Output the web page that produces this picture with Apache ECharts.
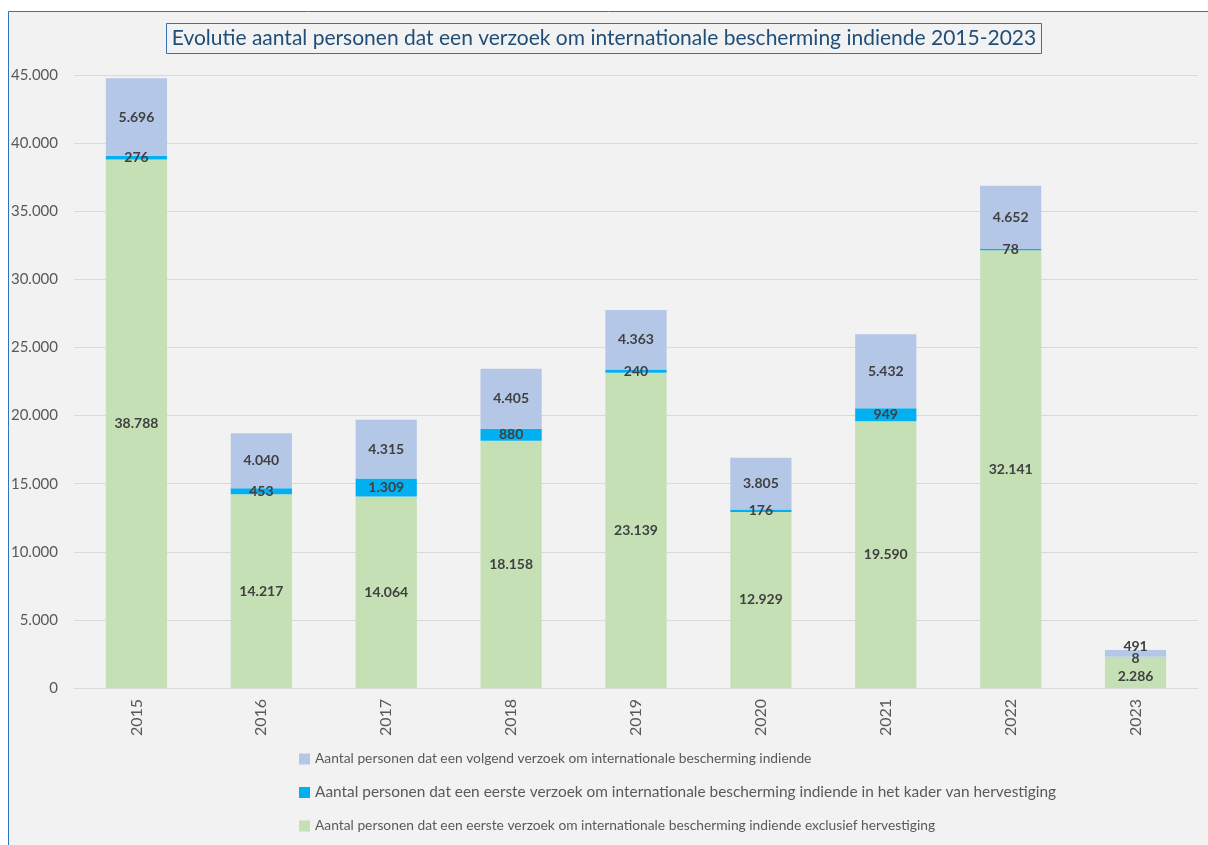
<!DOCTYPE html>
<html>
<head>
    <meta charset="utf-8" />
    <title>Evolutie verzoeken internationale bescherming</title>
    <style>
        html, body { margin: 0; padding: 0; background: #ffffff; }
        #chart { width: 1208px; height: 845px; }
    </style>
</head>
<body>
    <div id="chart"></div>

    <script src="https://cdn.jsdelivr.net/npm/echarts@6/dist/echarts.min.js"></script>
    <script>
        // gegevens
        var years = ['2015', '2016', '2017', '2018', '2019', '2020', '2021', '2022', '2023'];
        var eersteExclusief = [38788, 14217, 14064, 18158, 23139, 12929, 19590, 32141, 2286];
        var eersteHervestiging = [276, 453, 1309, 880, 240, 176, 949, 78, 8];
        var volgend = [5696, 4040, 4315, 4405, 4363, 3805, 5432, 4652, 491];

        var nameVolgend = 'Aantal personen dat een volgend verzoek om internationale bescherming indiende';
        var nameHerv = 'Aantal personen dat een eerste verzoek om internationale bescherming indiende in het kader van hervestiging';
        var nameExcl = 'Aantal personen dat een eerste verzoek om internationale bescherming indiende exclusief hervestiging';

        var fontFam = 'Lato, "Open Sans", sans-serif';

        // 12345 -> 12.345
        function nl(v) {
            return String(v).replace(/\B(?=(\d{3})+(?!\d))/g, '.');
        }

        var barLabel = {
            show: true,
            position: 'inside',
            color: '#404040',
            fontWeight: 'bold',
            fontSize: 14,
            fontFamily: fontFam,
            formatter: function (p) { return nl(p.value); }
        };

        // laatste jaar: labels iets uit elkaar schuiven zoals in het origineel
        function withShift(arr, dy) {
            return arr.map(function (v, i) {
                if (i !== arr.length - 1) return v;
                return { value: v, label: { offset: [0, dy] } };
            });
        }

        var chart = echarts.init(document.getElementById('chart'));
        chart.setOption({
            backgroundColor: '#ffffff',
            animation: false,
            textStyle: { fontFamily: fontFam },
            graphic: [{
                type: 'rect',
                shape: { x: 8.5, y: 11.5, width: 1220, height: 860 },
                style: { fill: '#f2f2f2', stroke: '#2e75b6', lineWidth: 1 },
                z: -10
            }],
            title: {
                text: 'Evolutie aantal personen dat een verzoek om internationale bescherming indiende 2015-2023',
                left: 'center',
                top: 23,
                padding: [5, 6, 5, 6],
                borderColor: '#2e75b6',
                borderWidth: 1,
                textStyle: {
                    color: '#1f4e79',
                    fontSize: 21,
                    fontWeight: 'normal',
                    fontFamily: fontFam
                }
            },
            legend: {
                orient: 'vertical',
                left: 294,
                top: 747,
                itemWidth: 11,
                itemHeight: 11,
                itemGap: 19,
                icon: 'rect',
                textStyle: { color: '#595959', fontSize: 13.8, fontFamily: fontFam },
                data: [
                    { name: nameVolgend },
                    { name: nameHerv, textStyle: { fontSize: 15.4 } },
                    { name: nameExcl }
                ]
            },
            grid: { left: 74, right: 10, top: 75, bottom: 157 },
            xAxis: {
                type: 'category',
                data: years,
                axisLine: { lineStyle: { color: '#d9d9d9', width: 1 } },
                axisTick: { show: false },
                axisLabel: {
                    rotate: 90,
                    color: '#595959',
                    fontSize: 16,
                    margin: 11
                }
            },
            yAxis: {
                type: 'value',
                min: 0,
                max: 45000,
                interval: 5000,
                axisLine: { show: false },
                axisTick: { show: false },
                splitLine: { lineStyle: { color: '#d9d9d9' } },
                axisLabel: {
                    color: '#595959',
                    fontSize: 15,
                    margin: 16,
                    formatter: function (v) { return nl(v); }
                }
            },
            series: [{
                name: nameExcl,
                type: 'bar',
                stack: 'totaal',
                barWidth: '49%',
                itemStyle: { color: '#c5e0b4' },
                label: barLabel,
                data: withShift(eersteExclusief, 4)
            }, {
                name: nameHerv,
                type: 'bar',
                stack: 'totaal',
                itemStyle: { color: '#00b0f0' },
                label: barLabel,
                data: withShift(eersteHervestiging, 2)
            }, {
                name: nameVolgend,
                type: 'bar',
                stack: 'totaal',
                itemStyle: { color: '#b4c7e7' },
                label: barLabel,
                data: withShift(volgend, -7)
            }]
        });
    </script>
</body>
</html>
